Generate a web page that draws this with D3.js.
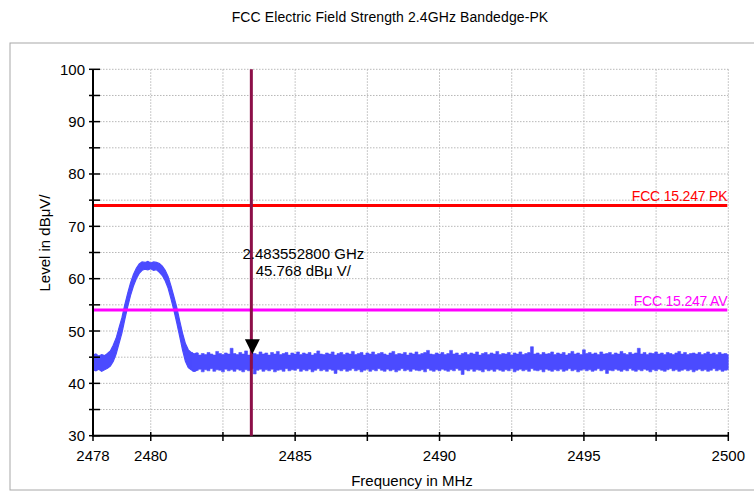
<!DOCTYPE html>
<html><head><meta charset="utf-8">
<script src="https://cdn.jsdelivr.net/npm/d3@7"></script>
<style>
html,body{margin:0;padding:0;background:#fff;}
svg text{font-family:"Liberation Sans",Arial,sans-serif;}
</style></head>
<body><svg id="c" width="754" height="493"></svg>
<script>
const title = "FCC Electric Field Strength 2.4GHz Bandedge-PK";
const xLabel = "Frequency in MHz";
const yLabel = "Level in dBμV/";
const xDomain = [2478, 2500];
const yDomain = [30, 100];
const xTickLabels = [2478, 2480, 2485, 2490, 2495, 2500];
const xTicks = [2478, 2480, 2482.5, 2485, 2487.5, 2490, 2492.5, 2495, 2497.5, 2500];
const xGrid = [2480, 2482.5, 2485, 2487.5, 2490, 2492.5, 2495, 2497.5, 2500];
const yTickLabels = [30, 40, 50, 60, 70, 80, 90, 100];
const yTicks = [30, 35, 40, 45, 50, 55, 60, 65, 70, 75, 80, 85, 90, 95, 100];
const yGrid = [35, 40, 45, 50, 55, 60, 65, 70, 75, 80, 85, 90, 95, 100];
const limitNames = ["FCC 15.247 PK", "FCC 15.247 AV"];
const limitLevels = [74, 54];
const limitColors = ["#ff0000", "#ff00ff"];
const markerFreq = 2483.5528;
const markerLevel = 45.768;
const markerText = ["2.483552800 GHz", "45.768 dBμ V/"];
// trace sampled every 0.1 MHz from 2478.0 to 2500.0 : upper / lower envelope (dBμV/m)
const traceStart = 2478, traceStep = 0.1;
const traceUpper = [
45.4,45.6,45.2,45.5,45.3,45.7,46.2,47.3,48.6,50.6,
52.5,55.0,57.2,59.2,60.8,62.0,62.8,63.2,63.1,63.3,
63.0,63.2,63.1,62.9,62.4,61.6,60.4,58.6,56.6,54.5,
52.0,49.6,47.6,46.4,45.9,45.6,45.8,45.4,45.7,45.5,
45.9,45.6,45.4,46.1,45.7,45.5,45.8,45.6,46.7,45.7,
45.5,45.9,45.6,46.2,45.4,45.8,45.7,45.5,46.0,45.6,
45.8,45.4,45.9,45.6,46.1,45.5,45.7,45.9,45.4,45.8,
45.6,46.0,45.5,45.8,45.6,45.9,45.4,45.7,46.2,45.6,
45.5,45.8,45.6,46.0,45.4,45.7,45.9,45.5,45.8,45.6,
46.1,45.5,45.7,45.9,45.4,45.8,45.6,46.0,45.5,45.7,
45.9,45.6,45.4,45.8,46.1,45.5,45.7,45.6,45.9,45.4,
45.8,45.6,46.0,45.5,45.7,45.9,46.3,45.6,45.5,45.8,
45.6,45.9,45.5,45.7,46.3,45.6,45.8,45.4,45.7,45.9,
45.5,45.8,45.6,46.0,45.4,45.7,45.9,45.5,45.8,45.6,
46.1,45.5,45.7,45.6,45.9,45.4,45.8,45.6,46.0,45.5,
45.7,45.9,47.0,45.6,45.8,45.5,45.9,45.6,45.7,46.0,
45.5,45.8,45.6,45.9,45.4,45.7,46.1,45.6,45.8,45.5,
46.4,45.7,45.9,45.6,45.8,45.5,46.0,45.6,45.7,45.9,
45.5,45.8,45.6,46.1,45.7,45.5,45.9,45.6,45.8,46.7,
45.6,45.9,45.5,45.8,45.7,46.0,45.6,45.8,45.5,45.9,
45.7,45.5,45.8,46.1,45.6,45.9,45.5,45.7,45.8,45.6,
45.9,45.5,45.7,46.0,45.6,45.8,45.5,45.9,45.6,45.7,45.5];
const traceLower = [
42.6,42.4,42.7,42.3,42.6,42.9,43.3,44.2,45.6,47.6,
49.6,52.2,54.6,56.8,58.6,60.0,61.0,61.6,61.8,61.7,
61.9,61.6,61.7,61.2,60.6,59.6,58.2,56.2,54.0,51.6,
49.0,46.4,44.2,43.0,42.6,42.3,42.5,42.7,42.2,42.6,
42.4,42.8,42.3,42.6,42.5,42.2,42.7,42.4,42.6,42.3,
42.7,42.5,42.2,42.6,42.4,42.8,41.8,42.5,42.7,42.3,
42.6,42.4,42.7,42.2,42.5,42.6,42.3,42.8,42.4,42.6,
42.5,42.8,42.3,42.6,42.4,42.7,42.2,42.5,42.8,42.4,
42.6,42.3,42.7,42.5,41.9,42.6,42.4,42.7,42.3,42.5,
42.8,42.4,42.6,42.2,42.5,42.7,42.3,42.6,42.4,42.8,
42.5,42.3,42.7,42.4,42.6,42.2,42.5,42.8,42.4,42.6,
42.3,42.7,42.5,42.4,42.6,42.2,42.8,42.5,42.3,42.6,
42.4,42.7,42.5,42.3,42.6,42.4,42.8,42.5,41.7,42.6,
42.4,42.7,42.3,42.6,42.5,42.2,42.7,42.4,42.6,42.3,
42.7,42.5,42.3,42.6,42.4,42.8,42.2,42.5,42.7,42.4,
42.6,42.3,42.8,42.5,42.4,42.6,42.2,42.7,42.5,42.3,
42.6,42.4,42.7,42.3,42.5,42.8,42.4,42.6,42.2,42.5,
42.7,42.4,42.6,42.3,42.5,42.8,42.4,42.6,41.9,42.5,
42.4,42.7,42.5,42.3,42.6,42.4,42.8,42.5,42.3,42.6,
42.4,42.7,42.5,42.2,42.6,42.4,42.7,42.5,42.3,42.6,
42.8,42.4,42.6,42.3,42.5,42.7,42.4,42.6,42.2,42.5,
42.7,42.4,42.6,42.3,42.5,42.8,42.4,42.6,42.3,42.5,42.6];

const svg = d3.select("#c");
const L = 93, R = 728.3, T = 69.3, B = 435.7;
const x = d3.scaleLinear().domain(xDomain).range([L, R]);
const y = d3.scaleLinear().domain(yDomain).range([B, T]);

// frame
svg.append("rect").attr("x", 10).attr("y", 43).attr("width", 760).attr("height", 447)
  .attr("fill", "none").attr("stroke", "#a8a8a8").attr("stroke-width", 1);

svg.append("text").attr("x", 390).attr("y", 22).attr("text-anchor", "middle")
  .attr("font-size", 14).attr("letter-spacing", 0.1).attr("fill", "#000").text(title);

// grid
const g = svg.append("g");
g.selectAll(".hg").data(yGrid).join("line")
  .attr("x1", 100).attr("x2", R).attr("y1", d => y(d)).attr("y2", d => y(d))
  .attr("stroke", "#b8b8b8").attr("stroke-width", 1).attr("stroke-dasharray", "1.5,1.5");
g.selectAll(".vg").data(xGrid).join("line")
  .attr("y1", T).attr("y2", 432).attr("x1", d => x(d)).attr("x2", d => x(d))
  .attr("stroke", "#b8b8b8").attr("stroke-width", 1).attr("stroke-dasharray", "1.5,1.5");

// trace: emission hump drawn smooth, noise floor drawn as stepped spikes
const idx = d3.range(traceUpper.length);
const mkArea = c => d3.area()
  .x(i => x(traceStart + i * traceStep))
  .y0(i => y(traceLower[i]))
  .y1(i => y(traceUpper[i]))
  .curve(c);
svg.append("path").datum(idx.filter(i => i <= 36)).attr("d", mkArea(d3.curveLinear))
  .attr("fill", "#4b4bff").attr("stroke", "#4b4bff").attr("stroke-width", 1.2);
svg.append("path").datum(idx.filter(i => i >= 34)).attr("d", mkArea(d3.curveStep))
  .attr("fill", "#4b4bff").attr("stroke", "#4b4bff").attr("stroke-width", 0.6);

// limit lines
limitLevels.forEach((lv, k) => {
  svg.append("line").attr("x1", L).attr("x2", R - 1).attr("y1", y(lv)).attr("y2", y(lv))
    .attr("stroke", limitColors[k]).attr("stroke-width", 3);
  svg.append("text").attr("x", R - 1).attr("y", y(lv) - 4).attr("text-anchor", "end")
    .attr("font-size", 14).attr("letter-spacing", -0.2).attr("fill", limitColors[k]).text(limitNames[k]);
});

// axes
svg.append("line").attr("x1", L).attr("x2", L).attr("y1", T).attr("y2", B + 1)
  .attr("stroke", "#000").attr("stroke-width", 2);
svg.append("line").attr("x1", L).attr("x2", R).attr("y1", B).attr("y2", B)
  .attr("stroke", "#000").attr("stroke-width", 2);
svg.selectAll(".yt").data(yTicks).join("line")
  .attr("x1", 89).attr("x2", 100).attr("y1", d => y(d)).attr("y2", d => y(d))
  .attr("stroke", "#000").attr("stroke-width", 1.5);
svg.selectAll(".xt").data(xTicks).join("line")
  .attr("x1", d => x(d)).attr("x2", d => x(d)).attr("y1", 432).attr("y2", 441)
  .attr("stroke", "#000").attr("stroke-width", 1.5);
svg.selectAll(".yl").data(yTickLabels).join("text")
  .attr("x", 85).attr("y", d => y(d) + 5.5).attr("text-anchor", "end")
  .attr("font-size", 15).attr("fill", "#000").text(d => d);
svg.selectAll(".xl").data(xTickLabels).join("text")
  .attr("x", d => x(d)).attr("y", 461).attr("text-anchor", "middle")
  .attr("font-size", 15).attr("fill", "#000").text(d => d);

svg.append("text").attr("x", 412).attr("y", 486).attr("text-anchor", "middle")
  .attr("font-size", 15).attr("fill", "#000").text(xLabel);
svg.append("text").attr("transform", "translate(50,243) rotate(-90)").attr("text-anchor", "middle")
  .attr("font-size", 15).attr("fill", "#000").text(yLabel);

// marker
const mx = x(markerFreq) - 2;
svg.append("line").attr("x1", mx).attr("x2", mx).attr("y1", T).attr("y2", B)
  .attr("stroke", "#8c0f48").attr("stroke-width", 3);
const my = y(markerLevel);
svg.append("path").attr("d", `M${mx - 6.5},${my - 14}L${mx + 8.5},${my - 14}L${mx + 1},${my + 1}Z`)
  .attr("fill", "#000");
svg.selectAll(".mt").data(markerText).join("text")
  .attr("x", mx + 52).attr("y", (d, i) => 259 + i * 17).attr("text-anchor", "middle")
  .attr("font-size", 15).attr("fill", "#000").text(d => d);
</script></body></html>
